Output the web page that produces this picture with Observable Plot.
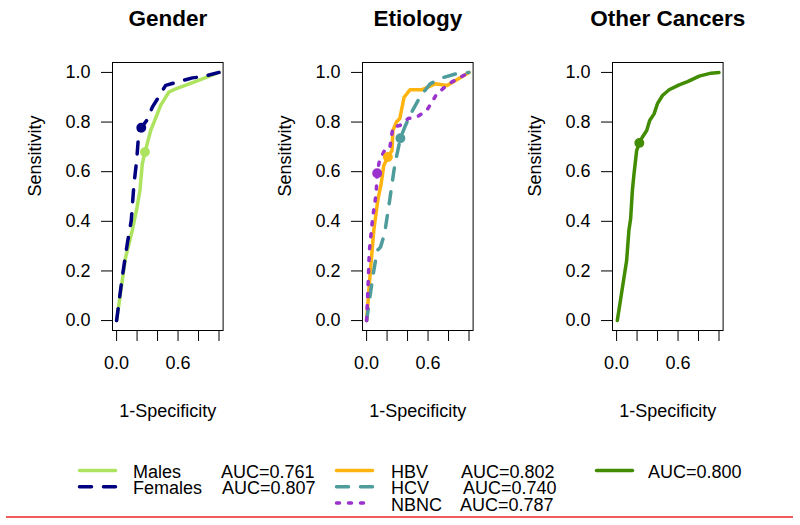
<!DOCTYPE html>
<html>
<head>
<meta charset="utf-8">
<script src="https://cdn.jsdelivr.net/npm/d3@7"></script>
<script src="https://cdn.jsdelivr.net/npm/@observablehq/plot@0.6"></script>
<style>
  body { margin: 0; background: #fff; }
  #chart { position: relative; width: 800px; height: 525px; background: #fff; font-family: "Liberation Sans", Arial, sans-serif; }
  .panel { position: absolute; top: 0; }
  #overlay { position: absolute; left: 0; top: 0; }
</style>
</head>
<body>
<div id="chart"></div>
<script>
// ---------- data ----------
const panelTitles = ["Gender", "Etiology", "Other Cancers"];
const xTicks = [0, 0.2, 0.4, 0.6, 0.8, 1.0];
const xLabeledTicks = [0, 0.6];
const yTicks = [0, 0.2, 0.4, 0.6, 0.8, 1.0];

// Gender
const malesFpr = [0, 0.088, 0.153, 0.2, 0.228, 0.251, 0.277, 0.333, 0.366, 0.43, 0.511, 0.577, 0.756, 1.0];
const malesTpr = [0, 0.255, 0.363, 0.457, 0.524, 0.632, 0.679, 0.766, 0.80, 0.867, 0.921, 0.934, 0.961, 1.0];
const malesCut = [0.277, 0.679];
const femalesFpr = [0, 0.055, 0.104, 0.143, 0.17, 0.196, 0.218, 0.241, 0.30, 0.349, 0.43, 0.479, 0.593, 0.74, 0.854, 1.0];
const femalesTpr = [0, 0.175, 0.309, 0.403, 0.551, 0.645, 0.766, 0.777, 0.81, 0.86, 0.914, 0.948, 0.961, 0.978, 0.984, 1.0];
const femalesCut = [0.241, 0.777];

// Etiology
const hbvFpr = [0, 0.027, 0.07, 0.109, 0.142, 0.168, 0.208, 0.248, 0.257, 0.291, 0.324, 0.366, 0.423, 0.538, 0.67, 0.786, 1.0];
const hbvTpr = [0, 0.148, 0.363, 0.484, 0.551, 0.625, 0.659, 0.685, 0.766, 0.80, 0.814, 0.90, 0.93, 0.93, 0.954, 0.947, 1.0];
const hbvCut = [0.208, 0.659];
const hcvFpr = [0, 0.027, 0.06, 0.103, 0.136, 0.175, 0.225, 0.267, 0.291, 0.33, 0.373, 0.423, 0.52, 0.62, 0.736, 0.868, 1.0];
const hcvTpr = [0, 0.08, 0.175, 0.282, 0.296, 0.349, 0.484, 0.605, 0.659, 0.735, 0.78, 0.827, 0.90, 0.954, 0.978, 0.994, 1.0];
const hcvCut = [0.33, 0.735];
const nbncFpr = [0, 0.01, 0.027, 0.06, 0.093, 0.103, 0.126, 0.175, 0.225, 0.257, 0.324, 0.406, 0.489, 0.588, 0.687, 0.802, 1.0];
const nbncTpr = [0, 0.094, 0.282, 0.417, 0.511, 0.594, 0.645, 0.685, 0.692, 0.78, 0.786, 0.814, 0.82, 0.847, 0.914, 0.954, 1.0];
const nbncCut = [0.103, 0.594];

// Other cancers
const otherFpr = [0.007, 0.098, 0.12, 0.137, 0.154, 0.17, 0.196, 0.222, 0.251, 0.294, 0.323, 0.366, 0.399, 0.448, 0.513, 0.611, 0.693, 0.807, 0.922, 1.0];
const otherTpr = [0, 0.242, 0.363, 0.41, 0.524, 0.591, 0.685, 0.716, 0.739, 0.766, 0.806, 0.833, 0.874, 0.907, 0.93, 0.95, 0.963, 0.985, 0.997, 1.0];
const otherCut = [0.222, 0.716];

// legend
const genderNames = ["Males", "Females"];
const genderAUC = ["AUC=0.761", "AUC=0.807"];
const etiologyNames = ["HBV", "HCV", "NBNC"];
const etiologyAUC = ["AUC=0.802", "AUC=0.740", "AUC=0.787"];
const otherNames = [""];
const otherAUC = ["AUC=0.800"];

// ---------- styles ----------
const LW = 3.5;
const DASH = "12,12", DOT = "3,9";
const colMales = "#ade35f", colFemales = "#000080";
const colHBV = "#ffb30f", colHCV = "#4f9c9c", colNBNC = "#9a32cd";
const colOther = "#418c00";

const mk = (fpr, tpr) => fpr.map((x, i) => ({x, y: tpr[i]}));

const panels = [
  {title: panelTitles[0], series: [
    {d: mk(malesFpr, malesTpr), cut: malesCut, color: colMales, dash: null},
    {d: mk(femalesFpr, femalesTpr), cut: femalesCut, color: colFemales, dash: DASH}
  ]},
  {title: panelTitles[1], series: [
    {d: mk(hbvFpr, hbvTpr), cut: hbvCut, color: colHBV, dash: null},
    {d: mk(hcvFpr, hcvTpr), cut: hcvCut, color: colHCV, dash: DASH},
    {d: mk(nbncFpr, nbncTpr), cut: nbncCut, color: colNBNC, dash: DOT}
  ]},
  {title: panelTitles[2], series: [
    {d: mk(otherFpr, otherTpr), cut: otherCut, color: colOther, dash: null}
  ]}
];

const chart = document.getElementById("chart");
const PW = 250, PH = 430;
const fontFamily = '"Liberation Sans", Arial, sans-serif';

panels.forEach((p, k) => {
  const marks = [];
  p.series.forEach(s => {
    marks.push(Plot.line(s.d, {x: "x", y: "y", stroke: s.color, strokeWidth: LW,
      strokeDasharray: s.dash || undefined, strokeLinecap: "round", strokeLinejoin: "round"}));
  });
  p.series.forEach(s => {
    marks.push(Plot.dot([{x: s.cut[0], y: s.cut[1]}], {x: "x", y: "y", r: 4.2, fill: s.color, stroke: s.color}));
  });
  marks.push(Plot.frame({stroke: "black", strokeWidth: 1}));
  marks.push(Plot.axisY({ticks: yTicks, tickSize: 11, tickPadding: 11, tickFormat: d => d.toFixed(1), fontSize: 18, label: null, stroke: "black"}));
  marks.push(Plot.axisX({ticks: xTicks, tickSize: 11, tickPadding: 15, tickFormat: d => xLabeledTicks.includes(d) ? d.toFixed(1) : "", fontSize: 18, label: null, stroke: "black"}));
  marks.push(Plot.text([p.title], {text: d => d, frameAnchor: "top", lineAnchor: "middle", dy: -44, fontSize: 22.5, fontWeight: "bold"}));
  marks.push(Plot.text(["1-Specificity"], {text: d => d, frameAnchor: "bottom", lineAnchor: "middle", dy: 81, fontSize: 18}));
  marks.push(Plot.text(["Sensitivity"], {text: d => d, frameAnchor: "left", dx: -77, rotate: -90, fontSize: 18}));

  const svg = Plot.plot({
    width: PW, height: PH,
    marginLeft: 112, marginRight: PW - 222.6, marginTop: 62, marginBottom: PH - 330,
    x: {domain: [-0.04, 1.04]},
    y: {domain: [-0.04, 1.04]},
    style: {fontFamily, fontSize: "18px", color: "black", background: "transparent", overflow: "visible"},
    marks
  });
  const div = document.createElement("div");
  div.className = "panel";
  div.style.left = (k * 250) + "px";
  div.appendChild(svg);
  chart.appendChild(div);
});

// ---------- legend + rule ----------
const ov = d3.select("#chart").append("svg").attr("id", "overlay")
  .attr("width", 800).attr("height", 525)
  .style("font-family", fontFamily).style("pointer-events", "none");

const rowY = [470.5, 486.8, 503];
const rowBase = [477.5, 494, 510.5];

function legendBlock(x0, textX, aucX, names, aucs, colors, dashes) {
  names.forEach((n, i) => {
    ov.append("line").attr("x1", x0 + 1.5).attr("x2", x0 + 37.5)
      .attr("y1", rowY[i]).attr("y2", rowY[i])
      .attr("stroke", colors[i]).attr("stroke-width", LW)
      .attr("stroke-linecap", "round")
      .attr("stroke-dasharray", dashes[i] || null);
    if (n) ov.append("text").attr("x", textX).attr("y", rowBase[i]).attr("font-size", 18).text(n);
    ov.append("text").attr("x", aucX[i]).attr("y", rowBase[i]).attr("font-size", 18).text(aucs[i]);
  });
}
legendBlock(78, 133, [221, 222], genderNames, genderAUC, [colMales, colFemales], [null, DASH]);
legendBlock(335, 391, [461, 463, 460], etiologyNames, etiologyAUC, [colHBV, colHCV, colNBNC], [null, DASH, DOT]);
legendBlock(595, 648, [648], otherNames, otherAUC, [colOther], [null]);

ov.append("line").attr("x1", 6).attr("x2", 793).attr("y1", 517).attr("y2", 517)
  .attr("stroke", "#e8262a").attr("stroke-width", 1.5);
</script>
</body>
</html>
